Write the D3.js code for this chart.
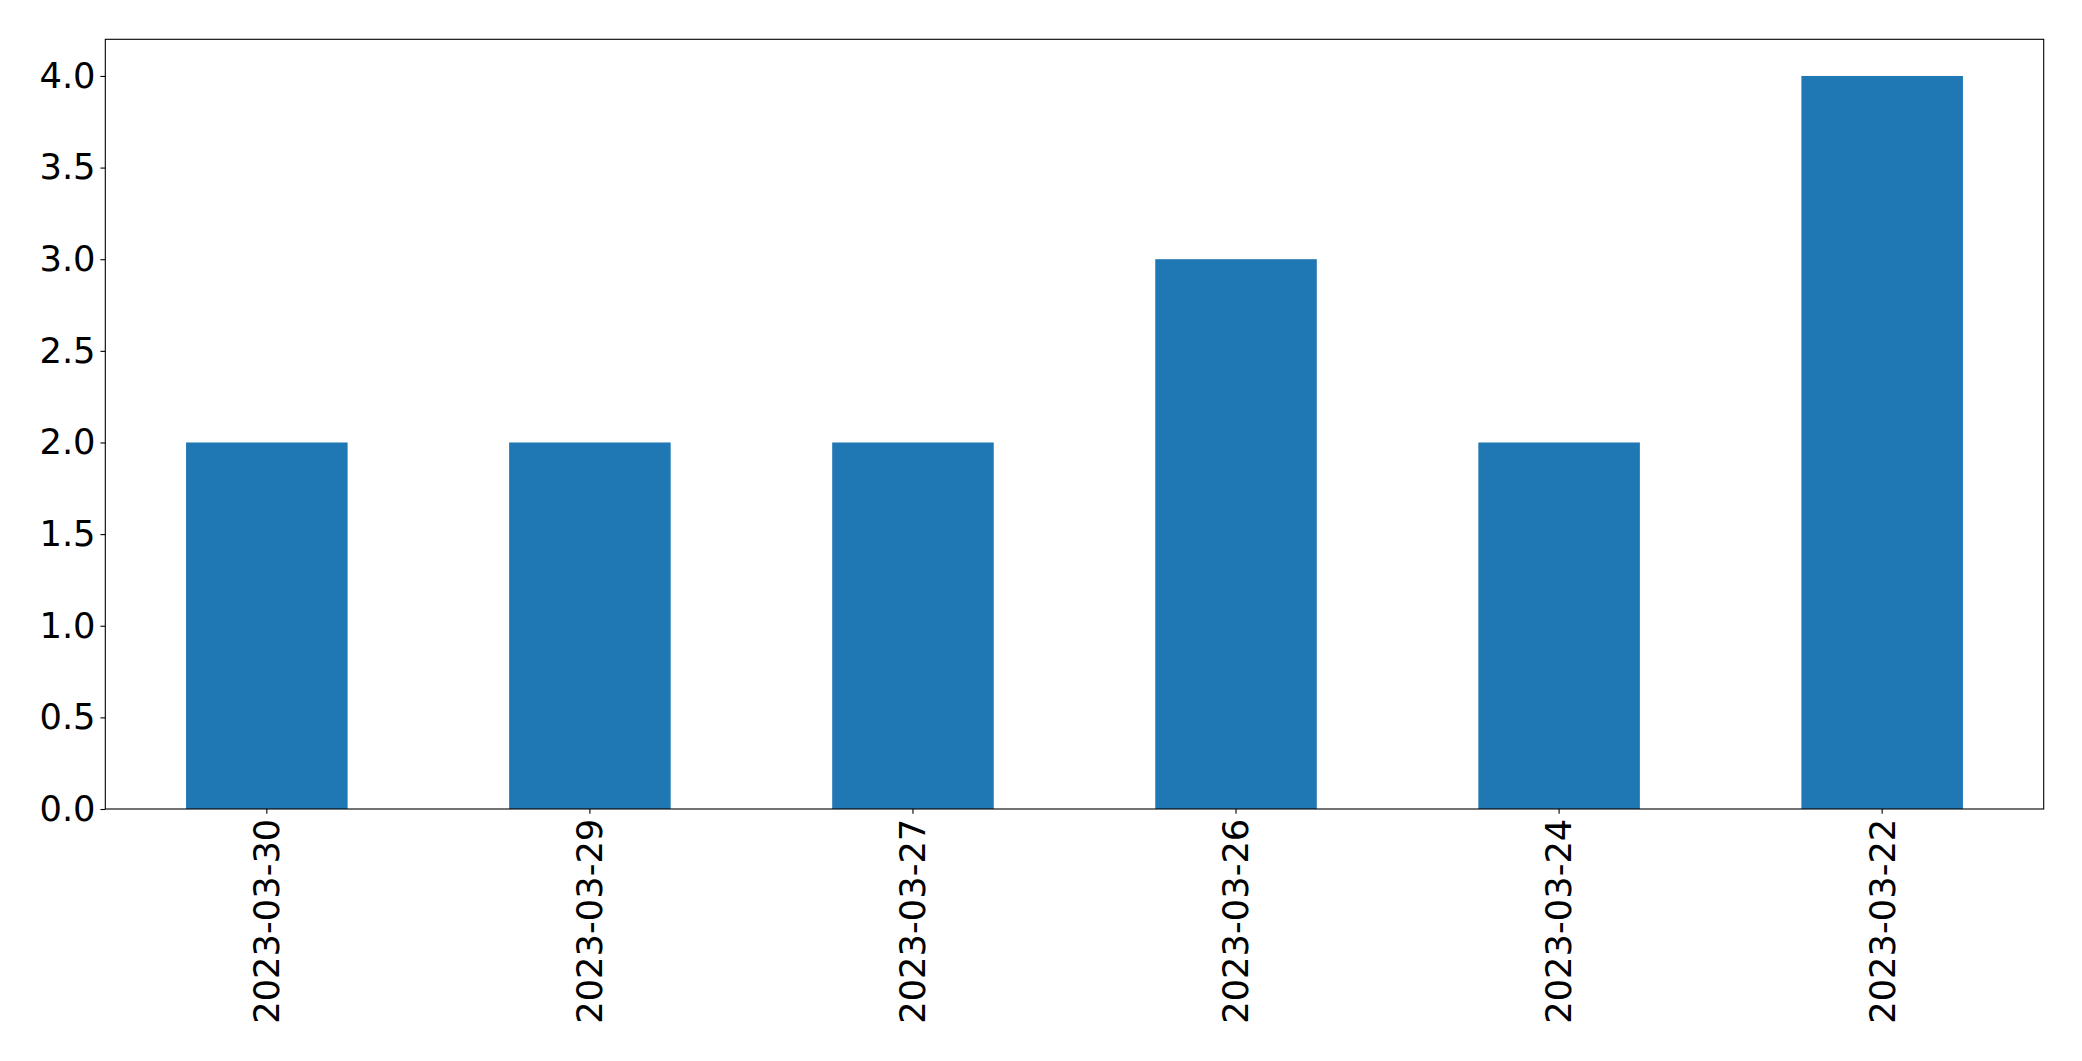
<!DOCTYPE html>
<html><head><meta charset="utf-8">
<script src="https://cdn.jsdelivr.net/npm/d3@7"></script>
<style>body{margin:0;background:#fff}svg{display:block}</style>
</head><body>
<script>
const categories = ["2023-03-30","2023-03-29","2023-03-27","2023-03-26","2023-03-24","2023-03-22"];
const values = [2, 2, 2, 3, 2, 4];
const yTicks = [0, 0.5, 1.0, 1.5, 2.0, 2.5, 3.0, 3.5, 4.0];

const W = 2082, H = 1061;
const m = {left: 105.3, right: 2043.7, top: 39.3, bottom: 809};
const svg = d3.select("body").append("svg").attr("width", W).attr("height", H);

const x = d3.scaleBand().domain(categories).range([m.left, m.right]).paddingInner(0.5).paddingOuter(0.25);
const y = d3.scaleLinear().domain([0, 4.2]).range([m.bottom, m.top]);

svg.append("g").selectAll("rect").data(values).join("rect")
  .attr("x", (d, i) => x(categories[i]))
  .attr("width", x.bandwidth())
  .attr("y", d => y(d))
  .attr("height", d => y(0) - y(d))
  .attr("fill", "#1f77b4");

const font = "DejaVu Sans, sans-serif";
const fs = 35.3;
const yAxis = svg.append("g").attr("transform", `translate(${m.left},0)`)
  .call(d3.axisLeft(y).tickValues(yTicks).tickFormat(d3.format(".1f")).tickSize(4.86).tickPadding(4.86));
yAxis.select(".domain").remove();
yAxis.selectAll("line").attr("stroke", "#000").attr("stroke-width", 1.1);
yAxis.selectAll("text").attr("font-family", font).attr("font-size", fs).attr("fill", "#000");

const xAxis = svg.append("g").attr("transform", `translate(0,${m.bottom})`)
  .call(d3.axisBottom(x).tickSize(4.86).tickPadding(4.86));
xAxis.select(".domain").remove();
xAxis.selectAll("line").attr("stroke", "#000").attr("stroke-width", 1.1);
xAxis.selectAll("text").attr("font-family", font).attr("font-size", fs).attr("fill", "#000")
  .attr("transform", "rotate(-90)").attr("text-anchor", "end").attr("dy", "0.35em")
  .attr("x", -9.7).attr("y", 0);

svg.append("rect").attr("x", m.left).attr("y", m.top)
  .attr("width", m.right - m.left).attr("height", m.bottom - m.top)
  .attr("fill", "none").attr("stroke", "#000").attr("stroke-width", 1.1);
</script>
</body></html>
